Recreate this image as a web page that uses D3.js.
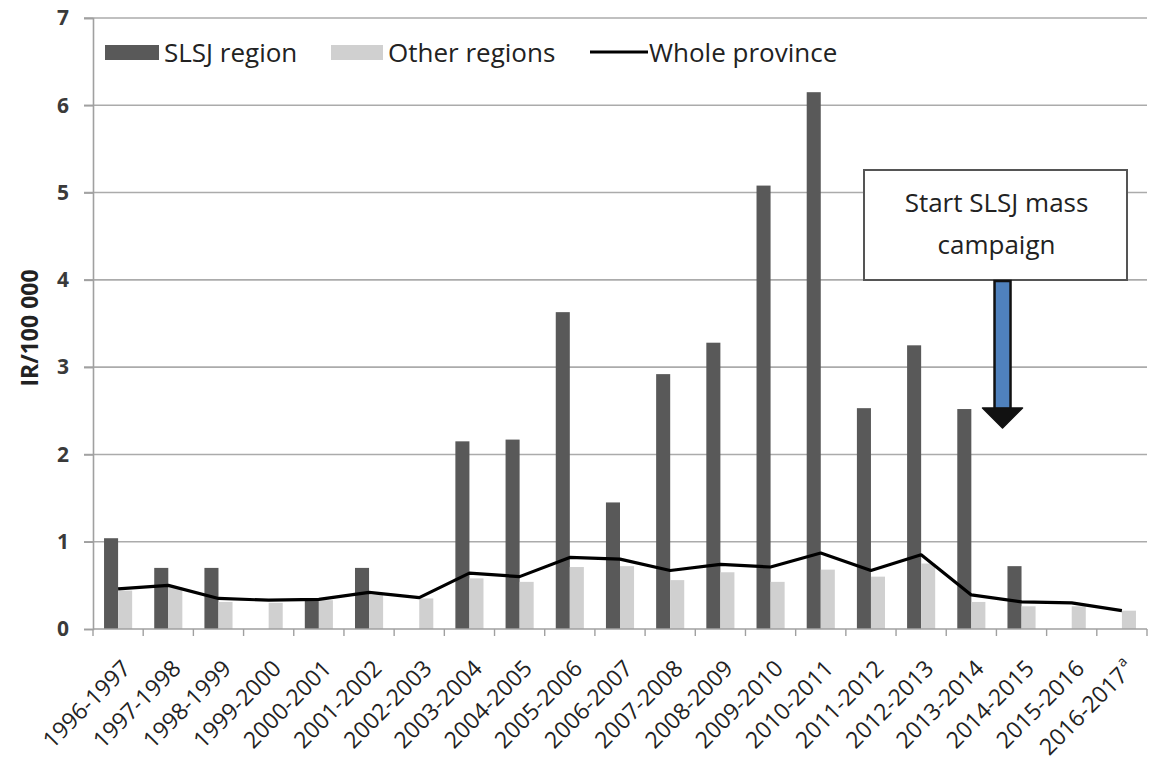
<!DOCTYPE html>
<html>
<head>
<meta charset="utf-8">
<script src="https://cdn.jsdelivr.net/npm/d3@7"></script>
<style>
  html, body { margin: 0; padding: 0; background: #fff; }
  svg { display: block; }
  text { font-family: "Open Sans", "DejaVu Sans", sans-serif; }
</style>
</head>
<body>
<svg id="chart" width="1163" height="770"></svg>
<script>
// Seasons (x categories)
const seasons = ["1996-1997","1997-1998","1998-1999","1999-2000","2000-2001","2001-2002",
  "2002-2003","2003-2004","2004-2005","2005-2006","2006-2007","2007-2008","2008-2009",
  "2009-2010","2010-2011","2011-2012","2012-2013","2013-2014","2014-2015","2015-2016","2016-2017"];
// Incidence rate per 100 000, SLSJ region (null = no cases)
const slsj = [1.04,0.70,0.70,null,0.33,0.70,null,2.15,2.17,3.63,1.45,2.92,3.28,5.08,6.15,2.53,3.25,2.52,0.72,null,null];
// Incidence rate per 100 000, other regions
const otherRegions = [0.44,0.48,0.31,0.30,0.33,0.39,0.35,0.58,0.54,0.71,0.72,0.56,0.65,0.54,0.68,0.60,0.75,0.31,0.26,0.26,0.21];
// Incidence rate per 100 000, whole province
const province = [0.46,0.50,0.35,0.33,0.34,0.42,0.36,0.64,0.60,0.82,0.80,0.67,0.74,0.71,0.87,0.67,0.85,0.39,0.31,0.30,0.21];
const yTicks = [0,1,2,3,4,5,6,7];
const seriesNames = ["SLSJ region","Other regions","Whole province"];
const noteLines = ["Start SLSJ mass","campaign"];
const noteSeason = "2014-2015";

const svg = d3.select("#chart");
const plotL = 93, plotR = 1147, plotT = 18, plotB = 629;

const x = d3.scaleBand().domain(seasons).range([plotL, plotR]).padding(0);
const y = d3.scaleLinear().domain([0, 7]).range([plotB, plotT]);
const bw = x.bandwidth() * 0.28;
const cx = d => x(d) + x.bandwidth() / 2;

// Horizontal gridlines
svg.append("g").selectAll("line").data(yTicks.filter(t => t > 0)).join("line")
  .attr("x1", plotL - 9).attr("x2", plotR)
  .attr("y1", d => y(d)).attr("y2", d => y(d))
  .attr("stroke", "#ababab").attr("stroke-width", 1.6);

// Y axis
const yAxis = svg.append("g").attr("transform", `translate(${plotL},0)`)
  .call(d3.axisLeft(y).tickValues(yTicks).tickSize(9).tickPadding(15).tickFormat(d3.format("d")));
yAxis.select(".domain").attr("stroke", "#a0a0a0").attr("stroke-width", 1.6);
yAxis.selectAll(".tick line").attr("stroke", "#a0a0a0").attr("stroke-width", 1.6);
yAxis.selectAll(".tick text").attr("font-size", 21).attr("font-weight", "bold").attr("fill", "#3a3a3a")
  .style("font-family", "'Open Sans', sans-serif");

// Axis title
svg.append("text")
  .attr("transform", `translate(29,328) rotate(-90)`)
  .attr("text-anchor", "middle").attr("dominant-baseline", "central")
  .attr("font-size", 23).attr("font-weight", "bold").attr("fill", "#222")
  .text("IR/100 000");

// SLSJ bars
svg.append("g").selectAll("rect").data(seasons.map((s, i) => ({s, v: slsj[i]})).filter(d => d.v != null))
  .join("rect")
  .attr("x", d => cx(d.s) - bw).attr("width", bw)
  .attr("y", d => y(d.v)).attr("height", d => y(0) - y(d.v))
  .attr("fill", "#595959");

// Other regions bars
svg.append("g").selectAll("rect").data(seasons.map((s, i) => ({s, v: otherRegions[i]})))
  .join("rect")
  .attr("x", d => cx(d.s)).attr("width", bw)
  .attr("y", d => y(d.v)).attr("height", d => y(0) - y(d.v))
  .attr("fill", "#d0d0d0");

// X axis
const xAxis = svg.append("g").attr("transform", `translate(0,${plotB})`);
xAxis.append("line").attr("x1", plotL).attr("x2", plotR).attr("stroke", "#a0a0a0").attr("stroke-width", 1.6);
xAxis.selectAll("line.tk").data(d3.range(seasons.length + 1)).join("line").attr("class", "tk")
  .attr("x1", i => plotL + i * x.step()).attr("x2", i => plotL + i * x.step())
  .attr("y1", 0).attr("y2", 7).attr("stroke", "#a0a0a0").attr("stroke-width", 1.4);
const xl = xAxis.selectAll("text").data(seasons).join("text")
  .attr("transform", d => `translate(${cx(d) + 14},${41}) rotate(-45)`)
  .attr("text-anchor", "end").attr("font-size", 23).attr("fill", "#222");
xl.text(d => d);
xl.filter((d, i) => i === seasons.length - 1).append("tspan")
  .attr("font-size", 14).attr("dx", 2).attr("dy", -11).text("a");

// Whole province line
svg.append("path").datum(province)
  .attr("d", d3.line().x((d, i) => cx(seasons[i])).y(d => y(d)))
  .attr("fill", "none").attr("stroke", "#000").attr("stroke-width", 3.2)
  .attr("stroke-linejoin", "round");

// Legend
const lg = svg.append("g");
lg.append("rect").attr("x", 105).attr("y", 45).attr("width", 54).attr("height", 15).attr("fill", "#595959");
lg.append("text").attr("x", 164).attr("y", 62).attr("font-size", 26).attr("fill", "#222").text(seriesNames[0]);
lg.append("rect").attr("x", 331).attr("y", 45).attr("width", 52).attr("height", 15).attr("fill", "#d0d0d0");
lg.append("text").attr("x", 388).attr("y", 62).attr("font-size", 26).attr("fill", "#222").text(seriesNames[1]);
lg.append("line").attr("x1", 590).attr("x2", 648).attr("y1", 52).attr("y2", 52).attr("stroke", "#000").attr("stroke-width", 3.2);
lg.append("text").attr("x", 649).attr("y", 62).attr("font-size", 26).attr("fill", "#222").text(seriesNames[2]);

// Annotation box and arrow
const ax = cx(noteSeason) - 19;
const box = {x0: 864, x1: 1127, y0: 170, y1: 280};
svg.append("rect").attr("x", box.x0).attr("y", box.y0)
  .attr("width", box.x1 - box.x0).attr("height", box.y1 - box.y0)
  .attr("fill", "#fff").attr("stroke", "#555").attr("stroke-width", 2);
svg.append("g").selectAll("text").data(noteLines).join("text")
  .attr("x", (box.x0 + box.x1) / 2 + 1).attr("y", (d, i) => 212 + i * 42)
  .attr("text-anchor", "middle").attr("font-size", 26).attr("fill", "#222").text(d => d);
const tipY = 428;
svg.append("rect").attr("x", ax - 8).attr("y", box.y1 + 1).attr("width", 16).attr("height", tipY - 20 - box.y1)
  .attr("fill", "#4f81bd").attr("stroke", "#111").attr("stroke-width", 2.5);
svg.append("path")
  .attr("d", `M${ax - 20},${tipY - 20} L${ax + 20},${tipY - 20} L${ax},${tipY} Z`)
  .attr("fill", "#111").attr("stroke", "#111").attr("stroke-width", 1.5).attr("stroke-linejoin", "round");
</script>
</body>
</html>
